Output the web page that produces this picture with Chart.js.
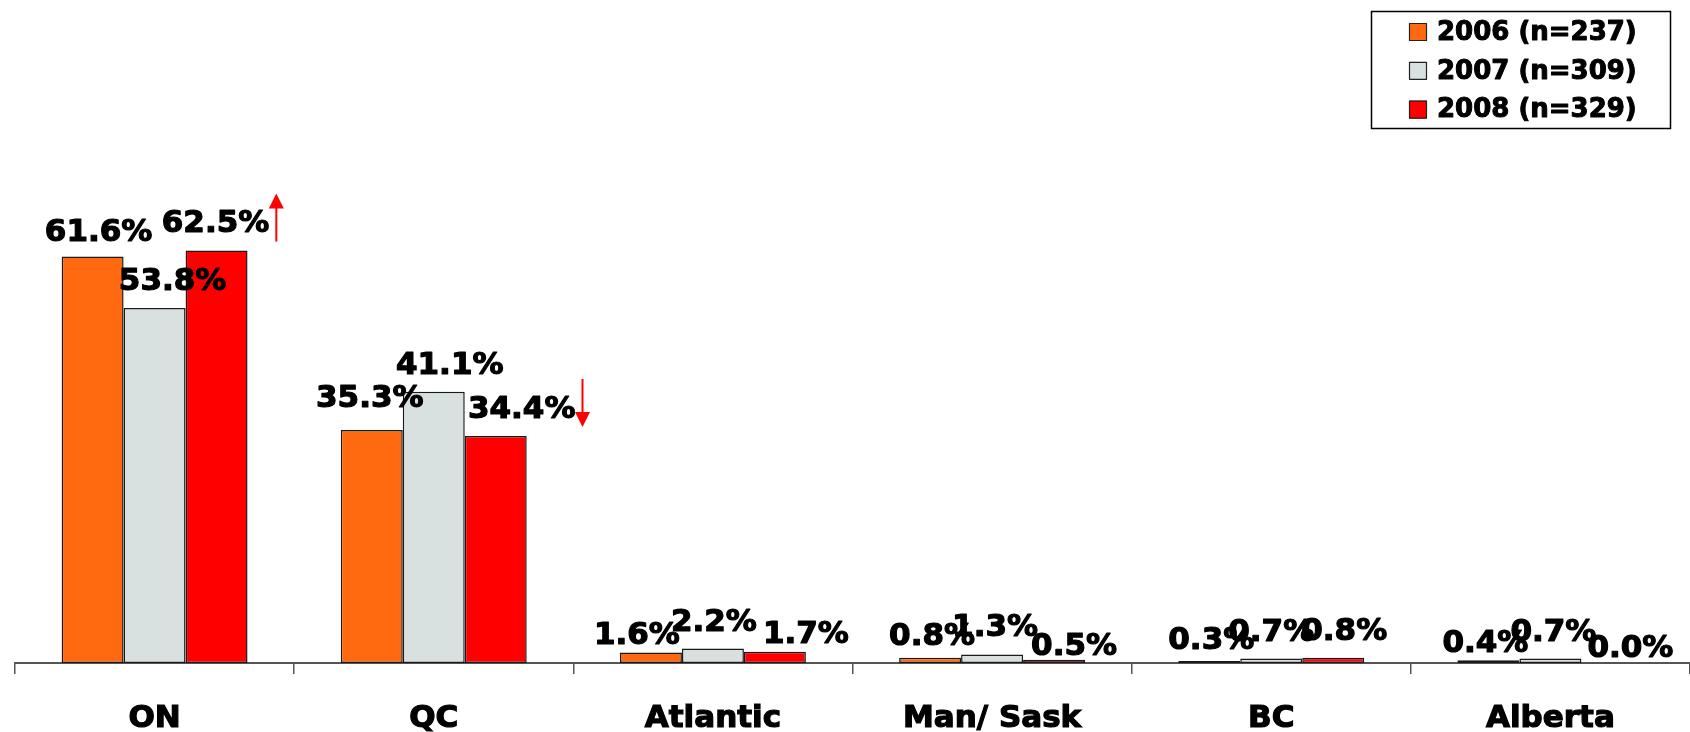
<!DOCTYPE html>
<html>
<head>
<meta charset="utf-8">
<script src="https://cdn.jsdelivr.net/npm/chart.js@4.4.1/dist/chart.umd.min.js"></script>
<style>
  html, body { margin: 0; padding: 0; background: #fff; overflow: hidden; }
  canvas { display: block; }
</style>
</head>
<body>
<canvas id="regions" width="1690" height="732"></canvas>
<script>
// values (percent)
var categories = ['ON', 'QC', 'Atlantic', 'Man/ Sask', 'BC', 'Alberta'];
var seriesNames = ['2006 (n=237)', '2007 (n=309)', '2008 (n=329)'];
var values2006 = [61.6, 35.3, 1.6, 0.8, 0.3, 0.4];
var values2007 = [53.8, 41.1, 2.2, 1.3, 0.7, 0.7];
var values2008 = [62.5, 34.4, 1.7, 0.5, 0.8, 0.0];
// change 2008 vs 2007 flagged with an arrow
var trend2008 = ['up', 'down', null, null, null, null];

var colors = ['#FF6A10', '#D9E1E0', '#FF0000'];
var FONT = 'DejaVu Sans';

// the labels in the original were nudged by hand: [dx, gap above bar]
var labelNudge = [
    [[6, 15], [-2, 23], [-14, 8], [2, 13], [2, 12], [-3, 8]],
    [[18, 18], [16, 18], [1, 17], [3, 18], [0, 17], [3, 17]],
    [[-1, 19], [26, 18], [31, 9], [20, 5], [11, 18], [18, 6]]
];

var valueLabels = {
    id: 'valueLabels',
    afterDatasetsDraw: function (chart) {
        var ctx = chart.ctx;
        ctx.save();
        ctx.font = 'bold 31px "' + FONT + '"';
        ctx.textAlign = 'center';
        ctx.textBaseline = 'alphabetic';
        ctx.lineJoin = 'round';
        chart.data.datasets.forEach(function (ds, di) {
            var meta = chart.getDatasetMeta(di);
            meta.data.forEach(function (bar, i) {
                var txt = ds.data[i].toFixed(1) + '%';
                var n = labelNudge[di][i];
                var x = bar.x + n[0];
                var y = bar.y - n[1];
                ctx.fillStyle = '#000';
                ctx.strokeStyle = '#000';
                ctx.lineWidth = 1.2;
                ctx.strokeText(txt, x, y);
                ctx.fillText(txt, x, y);

                if (ds.trend && ds.trend[i]) {
                    var ax = x + ctx.measureText(txt).width / 2 + 7;
                    var top = bar.y - 57, bottom = bar.y - 9;
                    ctx.strokeStyle = '#FF0000';
                    ctx.fillStyle = '#FF0000';
                    ctx.lineWidth = 2;
                    ctx.beginPath();
                    if (ds.trend[i] === 'up') {
                        ctx.moveTo(ax, bottom);
                        ctx.lineTo(ax, top + 14);
                        ctx.stroke();
                        ctx.beginPath();
                        ctx.moveTo(ax, top);
                        ctx.lineTo(ax - 7.5, top + 15);
                        ctx.lineTo(ax + 7.5, top + 15);
                    } else {
                        ctx.moveTo(ax, top);
                        ctx.lineTo(ax, bottom - 14);
                        ctx.stroke();
                        ctx.beginPath();
                        ctx.moveTo(ax, bottom);
                        ctx.lineTo(ax - 7.5, bottom - 15);
                        ctx.lineTo(ax + 7.5, bottom - 15);
                    }
                    ctx.closePath();
                    ctx.fill();
                }
            });
        });
        ctx.restore();
    }
};

var boxLegend = {
    id: 'boxLegend',
    afterDraw: function (chart) {
        var ctx = chart.ctx;
        var left = 1371, top = 11, w = 299, h = 117;
        ctx.save();
        ctx.fillStyle = '#fff';
        ctx.fillRect(left, top, w, h);
        ctx.strokeStyle = '#000';
        ctx.lineWidth = 1.5;
        ctx.strokeRect(left + 0.5, top + 0.5, w, h);
        ctx.font = 'bold 26px "' + FONT + '"';
        ctx.textBaseline = 'middle';
        ctx.textAlign = 'left';
        ctx.lineJoin = 'round';
        chart.data.datasets.forEach(function (ds, i) {
            var cy = top + 21 + i * 38.8;
            ctx.fillStyle = ds.backgroundColor;
            ctx.fillRect(left + 38, cy - 9, 18, 18);
            ctx.strokeStyle = '#222';
            ctx.lineWidth = 1.2;
            ctx.strokeRect(left + 38.5, cy - 8.5, 17, 17);
            ctx.fillStyle = '#000';
            ctx.strokeStyle = '#000';
            ctx.lineWidth = 1;
            ctx.strokeText(ds.label, left + 66, cy + 1);
            ctx.fillText(ds.label, left + 66, cy + 1);
        });
        ctx.restore();
    }
};

var data = {
    labels: categories,
    datasets: [
        { label: seriesNames[0], data: values2006, backgroundColor: colors[0] },
        { label: seriesNames[1], data: values2007, backgroundColor: colors[1] },
        { label: seriesNames[2], data: values2008, backgroundColor: colors[2], trend: trend2008 }
    ]
};
data.datasets.forEach(function (ds) {
    ds.borderColor = '#1a1a1a';
    ds.borderWidth = 1.5;
    ds.borderSkipped = false;
    ds.categoryPercentage = 0.666;
    ds.barPercentage = 1.0;
});

var ctx = document.getElementById('regions').getContext('2d');
var regionsChart = new Chart(ctx, {
    type: 'bar',
    data: data,
    plugins: [valueLabels, boxLegend],
    options: {
        responsive: false,
        animation: false,
        devicePixelRatio: 1,
        layout: { padding: { top: 3, left: 15, right: 0, bottom: 0 } },
        plugins: {
            legend: { display: false },
            tooltip: { enabled: false }
        },
        scales: {
            x: {
                afterFit: function (scale) { scale.height = 69; },
                grid: {
                    offset: true,
                    drawOnChartArea: false,
                    drawTicks: true,
                    tickLength: 11,
                    color: '#555',
                    lineWidth: 1.5
                },
                border: { display: true, color: '#555', width: 2 },
                ticks: {
                    color: '#000',
                    padding: 26,
                    maxRotation: 0,
                    autoSkip: false,
                    textStrokeColor: '#000',
                    textStrokeWidth: 1.2,
                    font: { family: FONT, size: 31, weight: 'bold' }
                }
            },
            y: {
                display: false,
                min: 0,
                max: 100
            }
        }
    }
});
</script>
</body>
</html>
